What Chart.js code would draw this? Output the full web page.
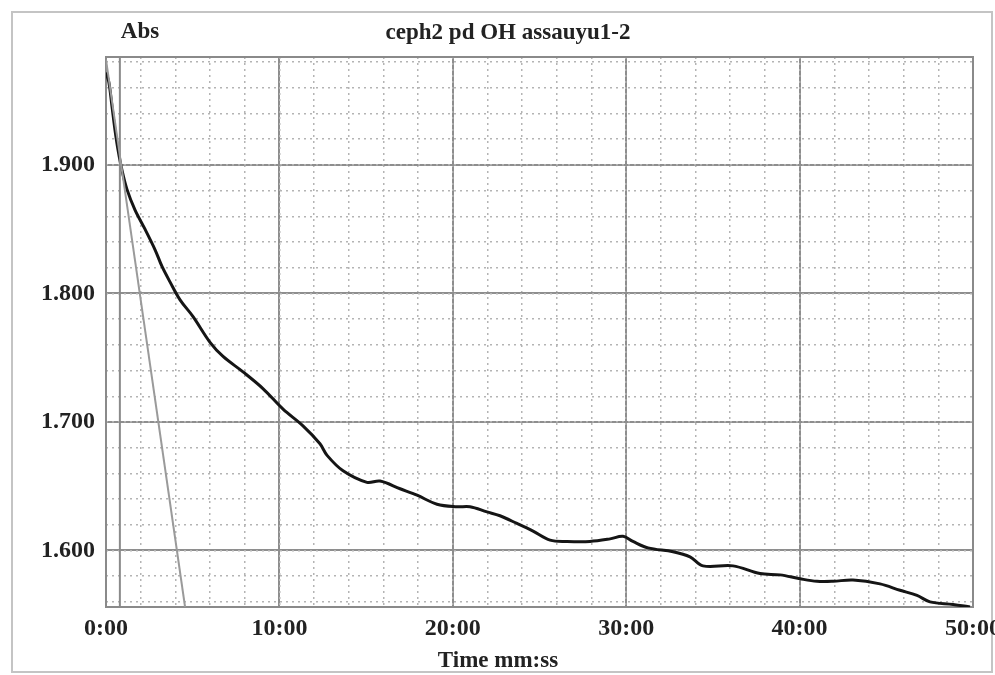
<!DOCTYPE html>
<html>
<head>
<meta charset="utf-8">
<script src="https://cdn.jsdelivr.net/npm/chart.js@4/dist/chart.umd.min.js"></script>
<style>
  html, body { margin: 0; padding: 0; background: #fff; }
  #wrap { width: 995px; height: 675px; }
</style>
</head>
<body>
<div id="wrap"><canvas id="absChart" width="995" height="675"></canvas></div>
<script>
// time in minutes, absorbance
const times = [0, 0.17, 0.35, 0.52, 0.69, 0.92, 1.21, 1.67, 2.25, 2.83, 3.23, 3.69, 4.27, 5.02,
  6.0, 6.75, 7.9, 9.05, 10.21, 11.36, 12.34, 12.75, 13.67, 15.05, 15.8, 16.96, 17.94, 19.09,
  20.24, 20.99, 21.97, 22.72, 23.7, 24.63, 25.61, 26.59, 27.91, 29.07, 29.82, 30.39, 31.26,
  32.7, 33.68, 34.43, 36.16, 37.72, 38.87, 40.02, 41.0, 41.93, 43.08, 44.64, 45.79, 46.77,
  47.52, 48.85, 49.83];
const absorbance = [1.972, 1.964, 1.945, 1.927, 1.912, 1.896, 1.881, 1.865, 1.85, 1.834, 1.821,
  1.809, 1.795, 1.782, 1.762, 1.751, 1.739, 1.726, 1.71, 1.697, 1.683, 1.674, 1.662, 1.653,
  1.654, 1.648, 1.643, 1.636, 1.634, 1.634, 1.63, 1.627, 1.621, 1.615, 1.608, 1.607, 1.607,
  1.609, 1.611, 1.607, 1.602, 1.599, 1.595, 1.588, 1.588, 1.582, 1.581, 1.578, 1.576, 1.576,
  1.577, 1.574, 1.569, 1.565, 1.56, 1.558, 1.556];

// grey reference slope and cursor line
const slopeTimes = [0, 4.56];
const slopeAbs = [1.982, 1.556];
const cursorTimes = [0.8, 0.8];
const cursorAbs = [1.556, 1.984];

const xTicks = [0, 10, 20, 30, 40, 50];
const yTicks = [1.6, 1.7, 1.8, 1.9];

const yMin = 1.556, yMax = 1.984;
const FONT = '"Liberation Serif", "Times New Roman", serif';

const toPts = (xs, ys) => xs.map((x, i) => ({ x: x, y: ys[i] }));

const framePlugin = {
    id: 'frame',
    beforeDraw(chart) {
        const c = chart.ctx;
        c.save();
        c.fillStyle = '#fff';
        c.fillRect(0, 0, chart.width, chart.height);
        c.strokeStyle = '#c4c4c4';
        c.lineWidth = 2;
        c.strokeRect(12, 12, 980, 660);
        c.restore();
    },
    beforeDatasetsDraw(chart) {
        const a = chart.chartArea, c = chart.ctx;
        c.save();
        c.strokeStyle = '#8a8a8a';
        c.lineWidth = 2;
        c.strokeRect(a.left, a.top, a.right - a.left, a.bottom - a.top);
        c.restore();
    },
    afterDraw(chart) {
        const c = chart.ctx;
        c.save();
        c.fillStyle = '#222';
        c.font = 'bold 23px ' + FONT;
        c.textAlign = 'center';
        c.textBaseline = 'middle';
        c.fillText('Abs', 140, 32);
        c.fillText('ceph2 pd OH assauyu1-2', 508, 33);
        c.fillText('Time mm:ss', 498, 661);
        c.restore();
    }
};

const keepTicks = list => scale => {
    scale.ticks = list.map(v => ({ value: v }));
};

new Chart(document.getElementById('absChart'), {
    type: 'line',
    data: {
        datasets: [{
            data: toPts(slopeTimes, slopeAbs),
            borderColor: '#9a9a9a',
            borderWidth: 2,
            pointRadius: 0
        }, {
            data: toPts(cursorTimes, cursorAbs),
            borderColor: '#8a8a8a',
            borderWidth: 2,
            pointRadius: 0
        }, {
            data: toPts(times, absorbance),
            borderColor: '#151515',
            borderWidth: 3,
            pointRadius: 0,
            tension: 0.35
        }]
    },
    options: {
        responsive: false,
        animation: false,
        events: [],
        layout: { padding: { top: 57, left: 0, right: 22, bottom: 0 } },
        plugins: { legend: { display: false }, tooltip: { enabled: false } },
        scales: {
            x: {
                type: 'linear',
                min: 0, max: 50,
                afterBuildTicks: keepTicks(xTicks),
                afterFit(s) { s.height = 68; s.paddingLeft = 0; s.paddingRight = 0; },
                grid: { color: '#8e8e8e', lineWidth: 2, drawTicks: false },
                border: { display: false },
                ticks: {
                    padding: 7,
                    color: '#222',
                    font: { family: FONT, size: 24, weight: 'bold' },
                    maxRotation: 0,
                    callback: v => v + ':00'
                }
            },
            xMinor: {
                type: 'linear',
                position: 'bottom',
                min: 0, max: 50,
                ticks: { stepSize: 2, display: false },
                afterFit(s) { s.height = 0; s.paddingLeft = 0; s.paddingRight = 0; },
                grid: { color: '#b4b4b4', lineWidth: 1.5, drawTicks: false },
                border: { display: false, dash: [2, 4] }
            },
            y: {
                min: yMin, max: yMax,
                afterBuildTicks: keepTicks(yTicks),
                afterFit(s) { s.width = 106; s.paddingTop = 0; s.paddingBottom = 0; },
                grid: { color: '#8e8e8e', lineWidth: 2, drawTicks: false },
                border: { display: false },
                ticks: {
                    padding: 11,
                    color: '#222',
                    font: { family: FONT, size: 24, weight: 'bold' },
                    callback: v => v.toFixed(3)
                }
            },
            yMinor: {
                position: 'left',
                min: yMin, max: yMax,
                afterBuildTicks(s) {
                    const list = [];
                    for (let k = 78; k <= 99; k++) list.push(k / 50);
                    s.ticks = list.map(v => ({ value: v }));
                },
                ticks: { display: false },
                afterFit(s) { s.width = 0; s.paddingTop = 0; s.paddingBottom = 0; },
                grid: { color: '#b4b4b4', lineWidth: 1.5, drawTicks: false },
                border: { display: false, dash: [2, 4] }
            }
        }
    },
    plugins: [framePlugin]
});
</script>
</body>
</html>
